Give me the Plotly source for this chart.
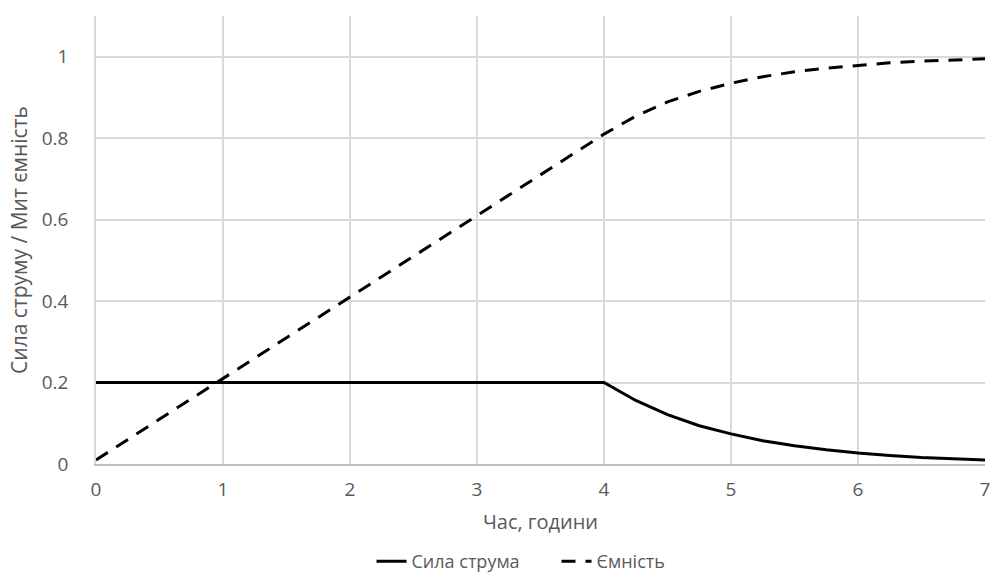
import plotly.graph_objects as go

# Time, hours
t_current = [0, 4, 4.25, 4.5, 4.75, 5, 5.25, 5.5, 5.75, 6, 6.25, 6.5, 6.75, 7]
current = [0.2, 0.2, 0.156, 0.121, 0.094, 0.074, 0.057, 0.045, 0.035, 0.027, 0.021, 0.016, 0.013, 0.01]

t_capacity = [0, 4, 4.25, 4.5, 4.75, 5, 5.25, 5.5, 5.75, 6, 6.25, 6.5, 6.75, 7]
capacity = [0.01, 0.81, 0.854, 0.889, 0.915, 0.935, 0.951, 0.963, 0.972, 0.979, 0.985, 0.989, 0.992, 0.995]

x_ticks = [0, 1, 2, 3, 4, 5, 6, 7]
y_ticks = [0, 0.2, 0.4, 0.6, 0.8, 1]
y_tick_text = ["0", "0.2", "0.4", "0.6", "0.8", "1"]

FONT = "Open Sans, Liberation Sans, sans-serif"
GRAY = "#595959"

fig = go.Figure()
fig.add_trace(go.Scatter(
    x=t_current, y=current, mode="lines", name="Сила струма",
    line=dict(color="black", width=3),
))
fig.add_trace(go.Scatter(
    x=t_capacity, y=capacity, mode="lines", name="Ємність",
    line=dict(color="black", width=3, dash="14px,10px"),
))

fig.update_layout(
    width=992, height=580,
    margin=dict(l=96, r=7, t=16, b=116, autoexpand=False),
    paper_bgcolor="white", plot_bgcolor="white",
    font=dict(family=FONT, color=GRAY, size=19),
    showlegend=True,
    legend=dict(
        orientation="h", x=0.561, xanchor="center", xref="container",
        y=0.0, yanchor="bottom", yref="container",
        font=dict(size=18, color=GRAY), entrywidth=140, entrywidthmode="pixels",
        traceorder="normal",
    ),
    xaxis=dict(
        range=[0, 7], tickvals=x_ticks, showgrid=True, gridcolor="#d9d9d9",
        gridwidth=1.5, zeroline=False, showline=True, linecolor="#bfbfbf",
        linewidth=1.5, ticks="", tickfont=dict(size=19, color=GRAY),
        ticklabelstandoff=7,
        title=dict(text="Час, години", font=dict(size=20, color=GRAY), standoff=14),
    ),
    yaxis=dict(
        range=[0, 1.1], tickvals=y_ticks, ticktext=y_tick_text, showgrid=True,
        gridcolor="#d9d9d9", gridwidth=1.5, zeroline=False, showline=True,
        linecolor="#d9d9d9", linewidth=1.5, ticks="",
        tickfont=dict(size=19, color=GRAY), ticklabelstandoff=22,
        title=dict(text="Сила струму / Мит ємність", font=dict(size=21, color=GRAY), standoff=8),
    ),
)

fig.write_html("out.html")
